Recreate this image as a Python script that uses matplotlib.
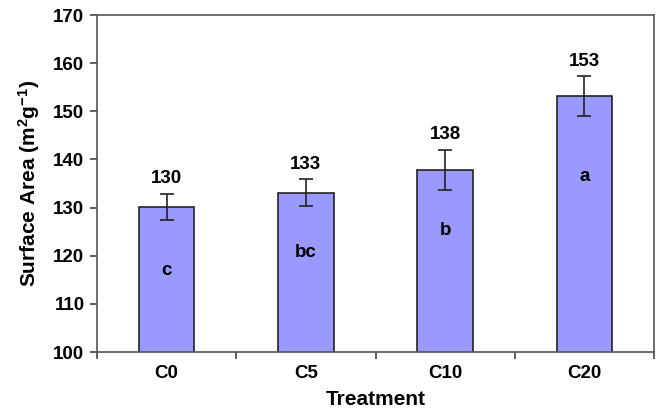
import numpy as np
import matplotlib.pyplot as plt

plt.rcParams['font.family'] = ['Liberation Sans', 'DejaVu Sans']
plt.rcParams['font.weight'] = 'bold'
plt.rcParams['mathtext.fontset'] = 'custom'
plt.rcParams['mathtext.rm'] = 'Liberation Sans:bold'
plt.rcParams['mathtext.default'] = 'rm'

treatments = ['C0', 'C5', 'C10', 'C20']
area = [130.2, 133.1, 137.8, 153.2]
err = [2.7, 2.8, 4.25, 4.1]
top_labels = ['130', '133', '138', '153']
letters = ['c', 'bc', 'b', 'a']
letter_y = [117.0, 120.7, 125.3, 136.4]

fig = plt.figure(figsize=(6.61, 4.12), dpi=100)
ax = fig.add_axes([97/661, 1-352/412, (654-97)/661, (352-15)/412])

x = np.arange(len(treatments))
ax.bar(x, area, width=0.4, color='#9999ff', edgecolor='#222222', linewidth=1.2,
       yerr=err, capsize=5, error_kw=dict(ecolor='#222222', elinewidth=1.2, capthick=1.2))

for i in range(len(x)):
    ax.text(x[i], area[i] + err[i] + 1.3, top_labels[i], ha='center', va='bottom',
            fontsize=13.5, fontweight='bold')
    ax.text(x[i], letter_y[i], letters[i], ha='center', va='center',
            fontsize=13.5, fontweight='bold')

ax.set_xlim(-0.5, 3.5)
ax.set_ylim(100, 170)
ax.set_yticks(np.arange(100, 171, 10))
ax.set_xticks(x)
ax.set_xticklabels(treatments)
ax.set_xticks(np.arange(-0.5, 3.6, 1), minor=True)
ax.tick_params(axis='x', which='major', length=0, pad=9, labelsize=13.5)
ax.tick_params(axis='x', which='minor', length=5, width=1.2, color='#444444')
ax.tick_params(axis='y', length=5, width=1.2, color='#444444', labelsize=13.5, pad=4)
for s in ax.spines.values():
    s.set_color('#555555')
    s.set_linewidth(1.2)

ax.set_xlabel('Treatment', fontsize=15, fontweight='bold', labelpad=6)
ax.set_ylabel('Surface Area (m$^2$g$^{-1}$)', fontsize=15, fontweight='bold', labelpad=8)

fig.savefig('out.png', dpi=100)
